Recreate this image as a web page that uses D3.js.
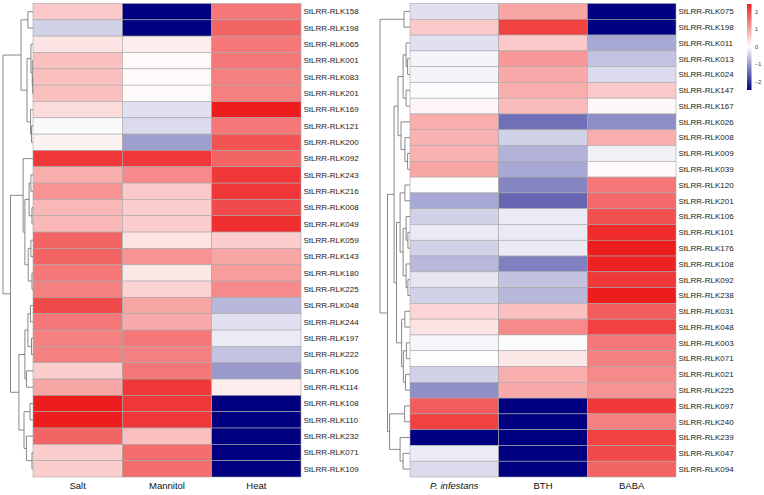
<!DOCTYPE html>
<html><head><meta charset="utf-8">
<script src="https://cdn.jsdelivr.net/npm/d3@7/dist/d3.min.js"></script>
<style>body{margin:0;background:#fff}svg{display:block}text{font-family:"Liberation Sans",Arial,sans-serif}</style>
</head><body><svg id="c" width="764" height="495"></svg>
<script>
// ---------- data ----------
const leftGenes = ["158","198","065","001","083","201","169","121","200","092","243","216","008","049","059","143","180","225","048","244","197","222","106","114","108","110","232","071","109"];
const leftConds = ["Salt","Mannitol","Heat"];
const leftSalt     = [0.6,-0.45,0.3,0.7,0.7,0.7,0.4,-0.05,0.15,2.2,0.9,1.2,0.8,0.8,1.7,1.7,1.5,1.4,2.0,1.5,1.4,1.4,0.55,1.0,2.5,2.5,1.7,0.55,0.55];
const leftMannitol = [-2.6,-2.6,0.2,0.05,0.05,0.05,-0.3,-0.35,-0.95,2.2,1.3,0.6,0.55,0.55,0.3,1.2,0.25,0.5,1.0,0.95,1.5,1.4,1.5,2.2,2.2,2.2,0.7,1.6,1.6];
const leftHeat     = [1.5,1.7,1.5,1.5,1.4,1.4,2.5,1.5,1.9,1.7,2.2,2.2,2.0,2.3,0.55,1.0,1.1,1.3,-0.7,-0.3,-0.2,-0.6,-1.0,0.2,-2.6,-2.6,-2.6,-2.6,-2.6];

const rightGenes = ["075","198","011","013","024","147","167","026","008","009","039","120","201","106","101","176","108","092","238","031","048","003","071","021","225","097","240","239","047","094"];
const rightConds = ["P. infestans","BTH","BABA"];
const rightPinf = [-0.3,0.6,-0.3,-0.12,-0.12,-0.04,0.1,0.9,0.85,0.85,1.0,0.03,-0.85,-0.45,-0.2,-0.45,-0.7,-0.25,-0.45,0.45,0.3,-0.1,0.02,-0.45,-1.1,1.8,2.1,-2.6,-0.2,-0.35];
const rightBTH  = [1.0,2.1,0.6,1.15,0.95,0.9,0.75,-1.4,-0.45,-0.75,-0.85,-1.2,-1.5,-0.2,-0.2,-0.2,-1.25,-0.6,-0.7,0.7,1.3,-0.03,0.25,0.9,0.95,-2.6,-2.6,-2.6,-2.6,-2.5];
const rightBABA = [-2.6,-2.6,-0.85,-0.6,-0.35,0.6,0.08,-1.1,0.9,-0.15,0.04,1.5,1.65,1.95,2.35,2.5,2.45,2.2,2.5,1.8,2.1,1.5,1.4,1.3,1.2,2.2,1.4,2.1,2.0,1.7];

const legendTicks = [2,1,0,-1,-2];
const labelPrefix = "StLRR-RLK";

// dendrograms: [height, childA, childB]; leaves are gene ids
const leftTree = [10,
  [4, [1.7,"158","198"], [2, [0.7,"065",[0.25,"001",[0.1,"083","201"]]], [0.8,"169",[0.5,"121","200"]]]],
  [7.5,
    [3.3, "092", [2.7, [1.3,[0.7,"243","216"],[0.35,"008","049"]], [1.6,[0.7,"059","143"],[0.35,"180","225"]]]],
    [4.7, [2.7, [1.7,[0.85,"048","244"],[0.5,"197","222"]], [2.2,"106","114"]], [3, [1,"108","110"], [2.2,"232",[0.35,"071","109"]]]]
  ]
];
const rightTree = [10,
  [2,"075","198"],
  [7.5,
    [5.3,
      [4, [2.3,[1.3,"011",[0.8,"013","024"]],[1.3,"147","167"]], [3,"026",[1.7,"008",[0.8,"009","039"]]]],
      [4.5, [3.3,[1.7,"120","201"],[2.3,[1.3,"106",[0.7,"101","176"]],[1.3,"108",[0.7,"092","238"]]]],
            [2.8,[1.7,"031","048"],[2.2,[1.2,"003","071"],[1.5,"021","225"]]]]
    ],
    [6.8, [1.8,"097","240"], [3.3,"239",[2.3,"047","094"]]]
  ]
];

// ---------- drawing ----------
const svg = d3.select("#c");
const color = d3.scaleLinear().domain([-2.5,0,2.5]).range(["#000080","#ffffff","#EE1D1D"]).clamp(true);

function panel(opts){
  const {genes, conds, cols, tree, x0, x1, y0, y1, dendroLeft} = opts;
  const xb = d3.scaleBand().domain(conds).range([x0,x1]);
  const yb = d3.scaleBand().domain(genes).range([y0,y1]);
  const g = svg.append("g");
  conds.forEach((c,ci)=>{
    g.selectAll(null).data(genes).enter().append("rect")
      .attr("x", xb(c)).attr("y", d=>yb(d))
      .attr("width", xb.bandwidth()).attr("height", yb.bandwidth())
      .attr("fill", (d,i)=>color(cols[ci][i]))
      .attr("stroke","#a8a8a8").attr("stroke-width",0.6);
  });
  // row labels
  g.selectAll(null).data(genes).enter().append("text")
    .attr("x", x1+2.5).attr("y", d=>yb(d)+yb.bandwidth()/2)
    .attr("dy","0.35em").attr("font-size",8).attr("fill","#222")
    .text(d=>labelPrefix+d);
  // column labels
  g.selectAll(null).data(conds).enter().append("text")
    .attr("x", d=>xb(d)+xb.bandwidth()/2).attr("y", 489)
    .attr("text-anchor","middle").attr("font-size",9.5).attr("fill","#111")
    .attr("font-style", d=>d.startsWith("P. ")?"italic":"normal")
    .text(d=>d);
  // dendrogram
  const hx = d3.scaleLinear().domain([0,10]).range([x0, dendroLeft]);
  const root = d3.hierarchy(tree, d=>Array.isArray(d)?d.slice(1):null);
  root.eachAfter(n=>{
    if(!n.children){ n.py = yb(n.data)+yb.bandwidth()/2; n.px = x0; }
    else { n.py = d3.mean(n.children, c=>c.py); n.px = hx(n.data[0]); }
  });
  const dg = svg.append("g").attr("fill","none").attr("stroke","#7a7a7a").attr("stroke-width",0.9);
  root.descendants().filter(n=>n.children).forEach(n=>{
    const ys = n.children.map(c=>c.py);
    dg.append("line").attr("x1",n.px).attr("x2",n.px).attr("y1",d3.min(ys)).attr("y2",d3.max(ys));
    n.children.forEach(c=>{
      dg.append("line").attr("x1",n.px).attr("x2",c.px).attr("y1",c.py).attr("y2",c.py);
    });
  });
}

panel({genes:leftGenes, conds:leftConds, cols:[leftSalt,leftMannitol,leftHeat], tree:leftTree,
       x0:33, x1:301, y0:3.5, y1:477, dendroLeft:3});
panel({genes:rightGenes, conds:rightConds, cols:[rightPinf,rightBTH,rightBABA], tree:rightTree,
       x0:410, x1:676, y0:3.5, y1:477, dendroLeft:380});

// legend
const ly = d3.scaleLinear().domain([2.46,-2.46]).range([4,90]);
const defs = svg.append("defs");
const grad = defs.append("linearGradient").attr("id","lg").attr("x1",0).attr("x2",0).attr("y1",0).attr("y2",1);
d3.range(0,1.0001,0.1).forEach(t=>{
  grad.append("stop").attr("offset",t).attr("stop-color",color(2.46-4.92*t));
});
svg.append("rect").attr("x",747).attr("y",ly(2.46)).attr("width",4.5).attr("height",ly(-2.46)-ly(2.46)).attr("fill","url(#lg)");
svg.selectAll(null).data(legendTicks).enter().append("text")
  .attr("x",755).attr("y",d=>ly(d)).attr("dy","0.35em").attr("font-size",5.5).attr("fill","#333")
  .text(d=>d<0?"\u2212"+Math.abs(d):d);
</script></body></html>
